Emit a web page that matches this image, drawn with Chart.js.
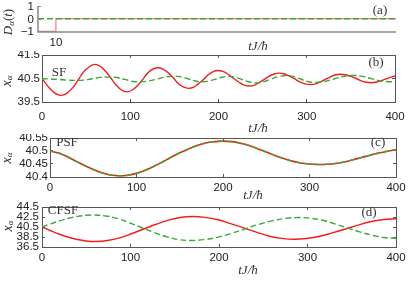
<!DOCTYPE html>
<html><head><meta charset="utf-8">
<script src="https://cdn.jsdelivr.net/npm/chart.js@4"></script>
<style>
html,body{margin:0;padding:0;background:#fff;}
#wrap{position:relative;width:409px;height:283px;overflow:hidden;background:#fff;}
canvas{position:absolute;left:0;}
</style></head><body>
<div id="wrap">
<canvas id="ca" width="409" height="51" style="top:0px"></canvas>
<canvas id="cb" width="409" height="83" style="top:51px"></canvas>
<canvas id="cc" width="409" height="67" style="top:134px"></canvas>
<canvas id="cd" width="409" height="82" style="top:201px"></canvas>
</div>
<script>
// ---------- data ----------
// panel (a): disorder pulse D_alpha(t)
const pulseT = [0, 10, 10, 200];
const pulseRed = [-1, -1, 0, 0];
const pulseGreenT = [0, 200];
const pulseGreen = [0, 0];
const aTicksX = [10];
const aTickLabelsX = ['10'];
const aTicksY = [-1, 0, 1];
const aTickLabelsY = ['\u22121', '0', '1'];

// shared time ticks
const tTicks = [0, 100, 200, 300, 400];
const tTickLabels = ['0', '100', '200', '300', '400'];

// panel (b): SF
const sfT = [0, 5, 10, 15, 19, 22, 28, 35, 41, 47, 54, 60, 66, 72, 78, 84, 90, 96, 102, 108, 114, 119, 125, 131, 137, 143, 149, 154, 160, 166, 172, 177, 183, 188, 194, 199, 205, 211, 217, 223, 229, 235, 241, 246, 252, 257, 263, 268, 274, 280, 286, 292, 298, 304, 310, 315, 321, 327, 332, 338, 344, 350, 356, 361, 367, 373, 378, 384, 389, 395, 400];
const sfRed = [40.5, 40.25, 40.03, 39.87, 39.8, 39.78, 39.87, 40.11, 40.44, 40.77, 41.01, 41.1, 41.02, 40.81, 40.52, 40.22, 40.01, 39.93, 40.0, 40.19, 40.45, 40.7, 40.89, 40.96, 40.9, 40.74, 40.52, 40.3, 40.14, 40.08, 40.13, 40.27, 40.46, 40.65, 40.79, 40.84, 40.8, 40.68, 40.51, 40.35, 40.22, 40.18, 40.22, 40.32, 40.46, 40.59, 40.69, 40.73, 40.7, 40.61, 40.49, 40.36, 40.27, 40.24, 40.27, 40.35, 40.46, 40.57, 40.65, 40.68, 40.66, 40.59, 40.5, 40.41, 40.34, 40.32, 40.34, 40.4, 40.47, 40.55, 40.61];
const sfGreenT = [0, 10, 20, 29, 38, 47, 57, 66, 76, 85, 94, 103, 112, 121, 131, 140, 150, 158, 166, 174, 182, 189, 197, 204, 212, 220, 227, 235, 243, 251, 259, 268, 276, 284, 293, 301, 310, 320, 331, 341, 352, 363, 373, 384, 395, 400];
const sfGreen = [40.49, 40.48, 40.46, 40.43, 40.42, 40.43, 40.49, 40.55, 40.56, 40.545, 40.46, 40.375, 40.36, 40.395, 40.48, 40.565, 40.6, 40.565, 40.48, 40.395, 40.36, 40.395, 40.475, 40.555, 40.59, 40.548, 40.45, 40.352, 40.31, 40.358, 40.47, 40.582, 40.63, 40.59, 40.48, 40.37, 40.33, 40.374, 40.48, 40.586, 40.63, 40.592, 40.495, 40.398, 40.36, 40.365];
const sfTicksY = [39.5, 40.5, 41.5];
const sfTickLabelsY = ['39.5', '40.5', '41.5'];

// panel (c): PSF (both curves coincide)
const psfT = [0, 10, 20, 30, 40, 50, 60, 70, 80, 90, 100, 110, 120, 130, 140, 150, 160, 170, 180, 190, 200, 210, 220, 230, 240, 250, 260, 270, 280, 290, 300, 310, 320, 330, 340, 350, 360, 370, 380, 390, 400];
const psfRed = [40.5, 40.492, 40.478, 40.461, 40.444, 40.429, 40.416, 40.408, 40.405, 40.407, 40.414, 40.426, 40.441, 40.458, 40.476, 40.493, 40.508, 40.521, 40.531, 40.536, 40.538, 40.536, 40.53, 40.521, 40.509, 40.496, 40.483, 40.471, 40.461, 40.454, 40.45, 40.448, 40.449, 40.452, 40.458, 40.466, 40.475, 40.484, 40.492, 40.499, 40.505];
const psfGreen = [40.5, 40.492, 40.478, 40.461, 40.444, 40.429, 40.416, 40.408, 40.405, 40.407, 40.414, 40.426, 40.441, 40.458, 40.476, 40.493, 40.508, 40.521, 40.531, 40.536, 40.538, 40.536, 40.53, 40.521, 40.509, 40.496, 40.483, 40.471, 40.461, 40.454, 40.45, 40.448, 40.449, 40.452, 40.458, 40.466, 40.475, 40.484, 40.492, 40.499, 40.505];
const psfTicksY = [40.4, 40.45, 40.5, 40.55];
const psfTickLabelsY = ['40.4', '40.45', '40.5', '40.55'];

// panel (d): CFSF
const cfsfRedT = [0, 10, 20, 30, 40, 50, 60, 74, 88, 101, 115, 129, 143, 156, 170, 184, 199, 213, 228, 242, 256, 271, 285, 299, 314, 328, 343, 357, 371, 386, 400];
const cfsfRed = [40.5, 39.75, 39.05, 38.45, 37.99, 37.7, 37.6, 37.79, 38.33, 39.15, 40.1, 41.05, 41.87, 42.41, 42.6, 42.43, 41.94, 41.19, 40.33, 39.47, 38.71, 38.22, 38.05, 38.21, 38.65, 39.32, 40.1, 40.88, 41.55, 41.99, 42.15];
const cfsfGreenT = [0, 10, 20, 30, 40, 50, 58, 72, 86, 99, 113, 127, 141, 154, 168, 183, 199, 214, 229, 244, 260, 275, 290, 304, 318, 331, 345, 359, 373, 386, 400];
const cfsfGreen = [40.5, 41.14, 41.74, 42.24, 42.62, 42.84, 42.9, 42.71, 42.16, 41.32, 40.35, 39.38, 38.54, 37.99, 37.8, 37.97, 38.47, 39.22, 40.1, 40.98, 41.73, 42.22, 42.4, 42.24, 41.79, 41.12, 40.33, 39.53, 38.86, 38.41, 38.25];
const cfsfTicksY = [36.5, 38.5, 40.5, 42.5, 44.5];
const cfsfTickLabelsY = ['36.5', '38.5', '40.5', '42.5', '44.5'];

// ---------- styling ----------
const RED = '#f21d1d';
const GREEN = '#3aaa35';
const AX = '#555555';
const AXA = '#8a8a8a';
const TXT = '#222222';
const NONE = 'rgba(0,0,0,0)';
const TICKFAMILY = '"Liberation Sans", Arial, Helvetica, sans-serif';
const tickFont = () => ({family: TICKFAMILY, size: 11.5});
const SERIF = '"Liberation Serif", "Times New Roman", serif';

const pts = (xs, ys) => xs.map((x, i) => ({x: x, y: ys[i]}));
const fixedTicks = (vals) => (s) => { s.ticks = vals.map(v => ({value: v})); };
const zeroPad = (s) => { s.paddingLeft = 0; s.paddingRight = 0; s.paddingTop = 0; s.paddingBottom = 0; };

function makeAnnot(items, drawAxesA) {
  return {
    id: 'annot',
    afterDraw(chart) {
      const ctx = chart.ctx;
      if (drawAxesA) {
        // panel (a): open axes (left + bottom) drawn from the chart's own scales
        const ca = chart.chartArea;
        const ys = chart.scales.y;
        ctx.save();
        ctx.strokeStyle = AXA;
        ctx.lineWidth = 1.5;
        ctx.beginPath();
        ctx.moveTo(ca.left, ca.top);
        ctx.lineTo(ca.left, ca.bottom);
        ctx.lineTo(ca.right, ca.bottom);
        ctx.stroke();
        ctx.lineWidth = 1;
        ctx.fillStyle = TXT;
        ctx.font = '11.5px ' + TICKFAMILY;
        ctx.textAlign = 'right';
        ctx.textBaseline = 'middle';
        aTicksY.forEach((v, i) => {
          const py = Math.round(ys.getPixelForValue(v)) + 0.5;
          ctx.beginPath();
          ctx.moveTo(ca.left, py);
          ctx.lineTo(ca.left + 3, py);
          ctx.stroke();
          ctx.fillText(aTickLabelsY[i], ca.left - 4, py);
        });
        ctx.restore();
      }
      items.forEach(it => {
        ctx.save();
        ctx.translate(it.x, it.y);
        if (it.rot) ctx.rotate(it.rot);
        ctx.fillStyle = it.color || '#333';
        ctx.textBaseline = 'middle';
        ctx.textAlign = 'left';
        let w = 0;
        const ws = it.parts.map(p => { ctx.font = p.font; const m = ctx.measureText(p.t).width; w += m; return m; });
        let x = -w / 2;
        it.parts.forEach((p, i) => { ctx.font = p.font; ctx.fillText(p.t, x, p.dy || 0); x += ws[i]; });
        ctx.restore();
      });
    }
  };
}

const xTitle = (x, y) => ({x: x, y: y, color: '#333', parts: [{t: 'tJ/\u0127', font: 'italic 13px ' + SERIF}]});
const xaTitle = (x, y) => ({x: x, y: y, rot: -Math.PI / 2, color: '#333', parts: [
  {t: 'x', font: 'italic 14px ' + SERIF},
  {t: '\u03b1', font: 'italic 9px ' + SERIF, dy: 3}
]});
const tag = (t, x, y) => ({x: x, y: y, color: '#333', parts: [{t: t, font: '13px ' + SERIF}]});

function panel(id, cfg) {
  const canvas = document.getElementById(id);
  const W = canvas.width, H = canvas.height;
  const axc = cfg.axc || AX;
  const boxc = cfg.box ? AX : NONE;
  const openAxes = !cfg.box;
  const scales = {
    x: {
      type: 'linear', position: 'bottom', min: cfg.xmin, max: cfg.xmax, bounds: 'data',
      afterBuildTicks: fixedTicks(cfg.xt),
      afterFit: (s) => { s.height = H - cfg.bottom; zeroPad(s); },
      ticks: {callback: (v, i) => cfg.xl[i], font: tickFont(), color: TXT, padding: cfg.xpad, maxRotation: 0, autoSkip: false},
      grid: {drawOnChartArea: false, tickLength: -3, tickColor: cfg.xtc || axc, tickWidth: 1},
      border: {display: !openAxes, color: axc, width: 1}
    },
    y: {
      type: 'linear', position: 'left', min: cfg.ymin, max: cfg.ymax, bounds: 'data',
      afterBuildTicks: fixedTicks(cfg.yt),
      afterFit: (s) => { s.width = cfg.left; zeroPad(s); },
      ticks: {display: !openAxes, callback: (v, i) => cfg.yl[i], font: tickFont(), color: TXT, padding: cfg.ypad, autoSkip: false},
      grid: {display: !openAxes, drawOnChartArea: false, tickLength: -3, tickColor: axc, tickWidth: 1},
      border: {display: !openAxes, color: axc, width: 1}
    },
    x2: {
      type: 'linear', position: 'top', min: cfg.xmin, max: cfg.xmax, bounds: 'data',
      afterBuildTicks: fixedTicks(cfg.xt),
      afterFit: (s) => { s.height = cfg.top; zeroPad(s); },
      ticks: {display: false},
      grid: {drawOnChartArea: false, tickLength: -3, tickColor: boxc, tickWidth: 1},
      border: {color: boxc, width: 1}
    },
    y2: {
      type: 'linear', position: 'right', min: cfg.ymin, max: cfg.ymax, bounds: 'data',
      afterBuildTicks: fixedTicks(cfg.yt),
      afterFit: (s) => { s.width = W - cfg.right; zeroPad(s); },
      ticks: {display: false},
      grid: {drawOnChartArea: false, tickLength: -3, tickColor: boxc, tickWidth: 1},
      border: {color: boxc, width: 1}
    }
  };
  return new Chart(canvas, {
    type: 'line',
    data: {datasets: cfg.datasets},
    options: {
      responsive: false, animation: false, devicePixelRatio: 1,
      layout: {padding: 0},
      elements: {point: {radius: 0}, line: {borderJoinStyle: 'round'}},
      plugins: {legend: {display: false}, tooltip: {enabled: false}},
      scales: scales
    },
    plugins: [makeAnnot(cfg.texts, openAxes)]
  });
}

const redLine = (data, w) => ({data: data, borderColor: RED, borderWidth: w || 1.4, fill: false, tension: 0.4, order: 2});
const greenLine = (data, dash, w) => ({data: data, borderColor: GREEN, borderWidth: w || 1.4, borderDash: dash || [6, 3], fill: false, tension: 0.4, order: 1});

// (a)
panel('ca', {
  xmin: 0, xmax: 200, ymin: -1.05, ymax: 1,
  left: 38, right: 396, top: 6, bottom: 32, box: false,
  xt: aTicksX, xl: aTickLabelsX, yt: aTicksY, yl: aTickLabelsY,
  xpad: 7, ypad: 7, axc: AXA, xtc: NONE,
  datasets: [
    {data: pts(pulseT, pulseRed), borderColor: '#f47a7a', borderWidth: 1.2, fill: false, tension: 0, order: 2},
    {data: pts(pulseGreenT, pulseGreen), borderColor: GREEN, borderWidth: 1.4, borderDash: [6, 3], fill: false, tension: 0, order: 1}
  ],
  texts: [
    tag('(a)', 380, 11),
    xTitle(258, 46.5),
    {x: 9, y: 22, rot: -Math.PI / 2, color: '#333', parts: [
      {t: 'D', font: 'italic 13px ' + SERIF},
      {t: '\u03b1', font: 'italic 9px ' + SERIF, dy: 3},
      {t: '(', font: '13px ' + SERIF},
      {t: 't', font: 'italic 13px ' + SERIF},
      {t: ')', font: '13px ' + SERIF}
    ]}
  ]
});

// (b)
panel('cb', {
  xmin: 0, xmax: 400, ymin: 39.5, ymax: 41.5,
  left: 42, right: 395, top: 4, bottom: 51, box: true,
  xt: tTicks, xl: tTickLabels, yt: sfTicksY, yl: sfTickLabelsY,
  xpad: 10.8, ypad: 5,
  datasets: [redLine(pts(sfT, sfRed)), greenLine(pts(sfGreenT, sfGreen))],
  texts: [tag('SF', 59, 21.7), tag('(b)', 376, 12), xTitle(258, 77.5), xaTitle(7, 30)]
});

// (c)
panel('cc', {
  xmin: 0, xmax: 400, ymin: 40.4, ymax: 40.55,
  left: 50, right: 396, top: 4, bottom: 43, box: true,
  xt: tTicks, xl: tTickLabels, yt: psfTicksY, yl: psfTickLabelsY,
  xpad: 6.8, ypad: 5,
  datasets: [redLine(pts(psfT, psfRed), 1.6), greenLine(pts(psfT, psfGreen), [5, 4], 1.6)],
  texts: [tag('PSF', 67, 8.5), tag('(c)', 378, 8.5), xTitle(253, 61.5), xaTitle(7, 24)]
});

// (d)
panel('cd', {
  xmin: 0, xmax: 400, ymin: 36.5, ymax: 44.5,
  left: 42, right: 396, top: 6, bottom: 46, box: true,
  xt: tTicks, xl: tTickLabels, yt: cfsfTicksY, yl: cfsfTickLabelsY,
  xpad: 7.4, ypad: 6,
  datasets: [redLine(pts(cfsfRedT, cfsfRed)), greenLine(pts(cfsfGreenT, cfsfGreen))],
  texts: [tag('CFSF', 63, 10), tag('(d)', 369, 12), xTitle(248, 70), xaTitle(8, 25)]
});
</script>
</body></html>
